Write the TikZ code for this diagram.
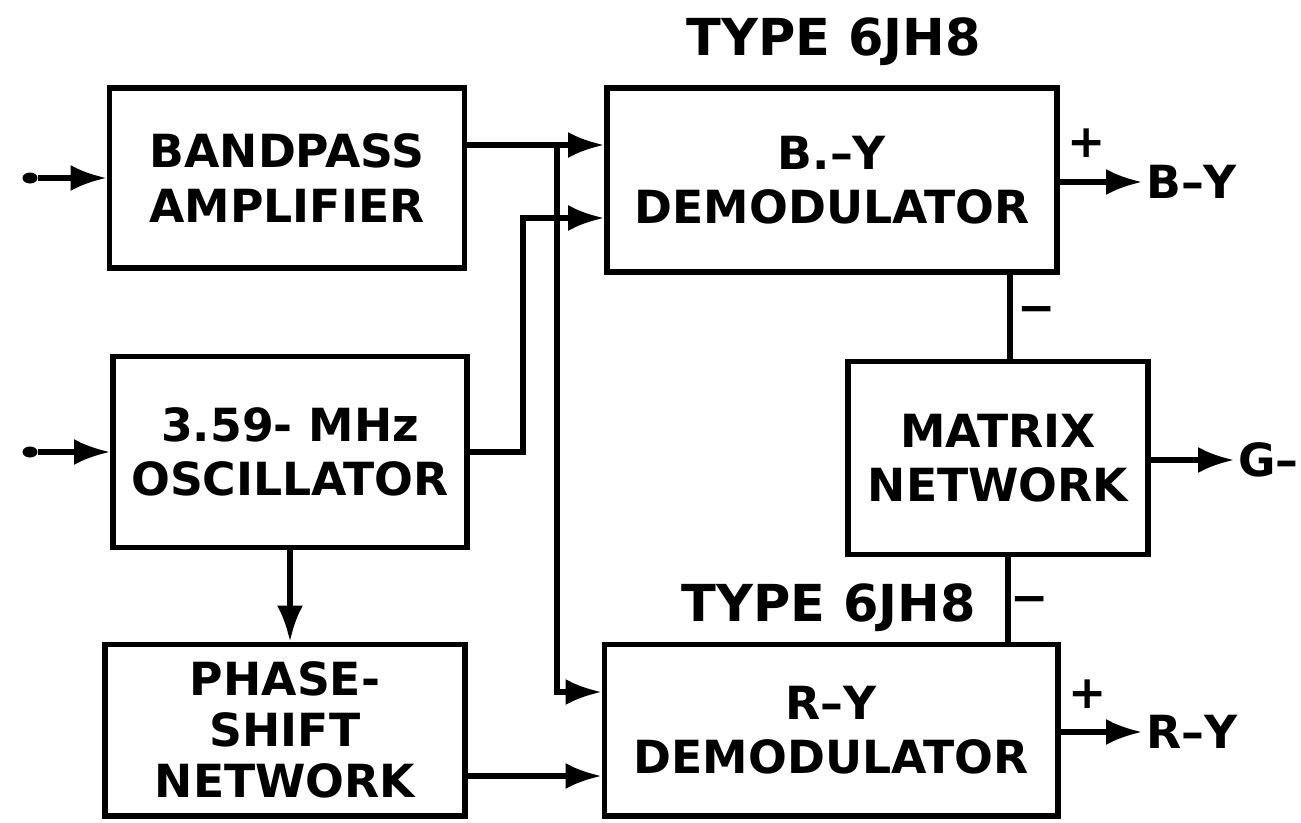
\documentclass[tikz,border=0pt]{standalone}
\usepackage{fontspec}
\setsansfont{DejaVu Sans}
\usetikzlibrary{arrows.meta,calc,positioning}
\tikzset{sig/.style={-{Latex[length=3.6mm,width=2.6mm]}, line width=1.5pt},
  wire/.style={line width=1.5pt},
  blk/.style={draw, line width=1.7pt, align=center, font=\sffamily\bfseries\fontsize{13}{15.5}\selectfont},
  lbl/.style={font=\sffamily\bfseries\fontsize{13}{15.5}\selectfont, inner sep=1pt},
  dot/.style={ellipse, fill, inner sep=0pt, minimum width=1.5mm, minimum height=1.1mm}}
\usetikzlibrary{shapes.geometric}

\begin{document}
\begin{tikzpicture}[x=0.1mm, y=-0.1mm]
  \useasboundingbox (0,0) rectangle (1301,822);
  % left column
  \node[blk, minimum width=35.5mm, minimum height=18mm] (bpa) at (287,178) {BANDPASS\\AMPLIFIER};
  \node[blk, minimum width=35.4mm, minimum height=19.1mm] (osc) at (290,452) {3.59- MHz\\OSCILLATOR};
  \node[blk, minimum width=36mm, minimum height=17.1mm, font=\sffamily\bfseries\fontsize{13}{14.5}\selectfont] (psn) at (285,730) {PHASE-\\SHIFT\\NETWORK};
  % demodulators and matrix
  \node[blk, minimum width=45mm, minimum height=18.4mm] (bydem) at (832,180) {B.–Y\\DEMODULATOR};
  \node[blk, minimum width=45.3mm, minimum height=17.1mm] (rydem) at (831,730) {R–Y\\DEMODULATOR};
  \node[blk, minimum width=30mm, minimum height=19.3mm] (mtx) at (998,458) {MATRIX\\NETWORK};
  \node[lbl, font=\sffamily\bfseries\fontsize{14.5}{16}\selectfont] (ty1) at (834,42) {TYPE 6JH8};
  \node[lbl, font=\sffamily\bfseries\fontsize{14.5}{16}\selectfont] (ty2) at (829,608) {TYPE 6JH8};
  % inputs
  \node[dot] (in1) at (30,178) {};
  \node[dot] (in2) at (30,452) {};
  \draw[sig] (in1) -- (bpa.west);
  \draw[sig] (in2) -- (osc.west);
  % chroma signal to both demodulators
  \coordinate (tap) at (557,145);
  \coordinate (ryin) at (557,692);
  \draw[sig] (bpa.east |- tap) -- (bydem.west |- tap);
  \draw[sig] (tap) -- (ryin) -- (rydem.west |- ryin);
  % reference carrier
  \coordinate (oscup) at (523,218);
  \draw[sig] (osc.east) -| (oscup) -- (bydem.west |- oscup);
  \draw[sig] (osc.south) -- (osc.south |- psn.north);
  \draw[sig] ($(psn.east)+(0,46)$) -- ($(rydem.west)+(0,46)$);
  % matrix
  \coordinate (mt) at (1010,362);
  \coordinate (mb) at (1008,555);
  \draw[wire] (bydem.south -| mt) -- (mtx.north -| mt);
  \draw[wire] (mtx.south -| mb) -- (rydem.north -| mb);
  \node[lbl] (m1) at (1037,315) {−};
  \node[lbl] (m2) at (1030,605) {−};
  % outputs
  \node[lbl, anchor=west] (bout) at (1142,182) {B–Y};
  \node[lbl, anchor=west] (rout) at (1142,732) {R–Y};
  \node[lbl, anchor=west] (gout) at (1234,460) {G–};
  \draw[sig] (bydem.east |- bout) -- (bout.west);
  \draw[sig] (rydem.east |- rout) -- (rout.west);
  \draw[sig] (mtx.east |- gout) -- (gout.west);
  \node[lbl] (p1) at (1087,143) {+};
  \node[lbl] (p2) at (1088,694) {+};
\end{tikzpicture}
\end{document}
